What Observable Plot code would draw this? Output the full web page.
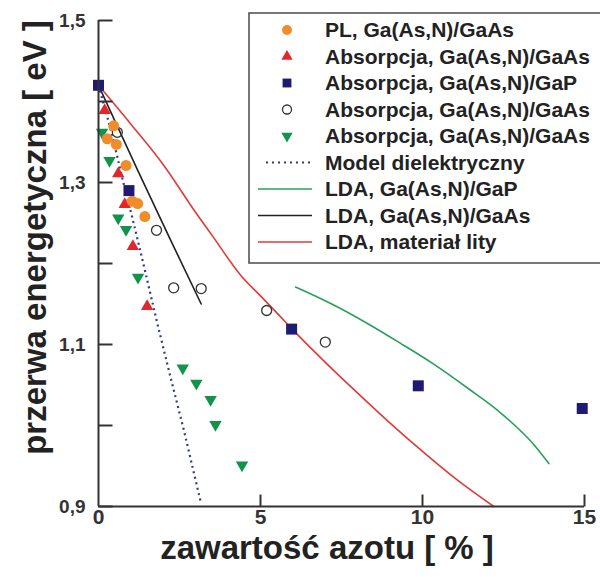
<!DOCTYPE html>
<html>
<head>
<meta charset="utf-8">
<script src="https://cdn.jsdelivr.net/npm/d3@7"></script>
<script src="https://cdn.jsdelivr.net/npm/@observablehq/plot@0.6"></script>
<style>
  body { margin: 0; background: #fff; }
  #chart { position: relative; width: 600px; height: 577px; }
  #chart svg { display: block; }
</style>
</head>
<body>
<div id="chart"></div>
<script>
// Band gap of Ga(As,N) vs nitrogen content: [nitrogen %, gap eV]
const plGaAs = [[0.27,1.354],[0.47,1.370],[0.55,1.347],[0.85,1.321],[1.04,1.277],[1.21,1.274],[1.43,1.258]];
const absGaAsUp = [[0.19,1.389],[0.61,1.311],[0.81,1.273],[1.06,1.221],[1.50,1.147]];
const absGaP = [[0,1.42],[0.94,1.29],[5.96,1.119],[9.87,1.049],[14.93,1.021]];
const absGaAsOpen = [[0.58,1.362],[1.79,1.241],[2.32,1.170],[3.17,1.169],[5.19,1.142],[7.0,1.103]];
const absGaAsDown = [[0.11,1.362],[0.34,1.327],[0.61,1.256],[0.85,1.242],[1.22,1.183],[2.60,1.071],[3.02,1.052],[3.46,1.032],[3.61,1.001],[4.43,0.951]];

const modelDielectric = [[0,1.42],[0.32,1.374],[0.58,1.332],[0.73,1.306],[1.04,1.257],[1.24,1.224],[1.43,1.192],[1.81,1.127],[2.22,1.060],[2.63,0.995],[3.17,0.903]];
const ldaGaP = [[6.08,1.171],[7.2,1.150],[8.3,1.126],[9.3,1.102],[10.3,1.077],[11.4,1.046],[12.4,1.016],[13.4,0.978],[13.9,0.953]];
const ldaGaAs = [[0,1.42],[1.2,1.316],[2.2,1.231],[3.17,1.15]];
const ldaBulk = [[0,1.42],[1,1.372],[2,1.322],[3,1.263],[3.5,1.235],[4.4,1.185],[5,1.16],[5.6,1.135],[6,1.118],[7,1.078],[8,1.040],[9,1.003],[10,0.968],[11,0.935],[12.2,0.9]];

// Axis ticks
const xLabels = [0, 5, 10, 15];
const xTickMarks = [5, 10, 15];
const yTickMarks = [0.9, 1.0, 1.1, 1.2, 1.3, 1.4, 1.5];
const yLabels = [0.9, 1.1, 1.3, 1.5];

// Legend entries
const legendLabels = [
  "PL, Ga(As,N)/GaAs",
  "Absorpcja, Ga(As,N)/GaAs",
  "Absorpcja, Ga(As,N)/GaP",
  "Absorpcja, Ga(As,N)/GaAs",
  "Absorpcja, Ga(As,N)/GaAs",
  "Model dielektryczny",
  "LDA, Ga(As,N)/GaP",
  "LDA, Ga(As,N)/GaAs",
  "LDA, materiał lity"
];

const C = {
  orange: "#f08c2a", red: "#e2262a", navy: "#1f1b72", open: "#333",
  green: "#12934a", dotted: "#34398a", gLine: "#27a05a", kLine: "#222", rLine: "#e03a3a",
  axis: "#333", text: "#222"
};

const FONT = "'Liberation Sans', Arial, Helvetica, sans-serif";

// Downward-pointing triangle (mirror of d3.symbolTriangle)
const sqrt3 = Math.sqrt(3);
const triangleDown = {
  draw(ctx, size) {
    const y = Math.sqrt(size / (sqrt3 * 3));
    ctx.moveTo(0, y * 2);
    ctx.lineTo(-sqrt3 * y, -y);
    ctx.lineTo(sqrt3 * y, -y);
    ctx.closePath();
  }
};
// Inward tick shapes
const tickRight = { draw(ctx) { ctx.moveTo(0, 0); ctx.lineTo(14, 0); } };
const tickUp = { draw(ctx) { ctx.moveTo(0, 0); ctx.lineTo(0, -12); } };

const px = d => d[0], py = d => d[1];
const fmt = d => d.toFixed(1).replace(".", ",");

const chart = Plot.plot({
  width: 600,
  height: 577,
  marginLeft: 98,
  marginRight: 16,
  marginTop: 20,
  marginBottom: 71,
  x: { domain: [0, 15] },
  y: { domain: [0.9, 1.5] },
  style: { fontFamily: FONT, background: "white", overflow: "visible" },
  marks: [
    // model curves
    Plot.line(ldaBulk, { x: px, y: py, stroke: C.rLine, strokeWidth: 1.6, curve: "monotone-x" }),
    Plot.line(ldaGaP, { x: px, y: py, stroke: C.gLine, strokeWidth: 1.6, curve: "monotone-x" }),
    Plot.line(ldaGaAs, { x: px, y: py, stroke: C.kLine, strokeWidth: 1.6 }),
    Plot.line(modelDielectric, { x: px, y: py, stroke: C.dotted, strokeWidth: 2.2, strokeDasharray: "2 3.6", strokeLinecap: "butt" }),

    // measurements
    Plot.dot(absGaAsOpen, { x: px, y: py, r: 5, stroke: C.open, strokeWidth: 1.3, fill: "none" }),
    Plot.dot(absGaAsDown, { x: px, y: py, r: 4.6, symbol: triangleDown, fill: C.green, stroke: "none" }),
    Plot.dot(absGaAsUp, { x: px, y: py, r: 4.6, symbol: "triangle", fill: C.red, stroke: "none" }),
    Plot.dot(plGaAs, { x: px, y: py, r: 5.5, fill: C.orange, stroke: "none" }),
    Plot.dot(absGaP, { x: px, y: py, r: 6.2, symbol: "square", fill: C.navy, stroke: "none" }),

    // axes lines
    Plot.ruleX([0], { y1: 0.9, y2: 1.5, stroke: C.axis, strokeWidth: 2 }),
    Plot.ruleY([0.9], { x1: 0, x2: 15, stroke: C.axis, strokeWidth: 2 }),
    Plot.dot(yTickMarks, { x: 0, y: d => d, symbol: tickRight, stroke: C.axis, strokeWidth: 2, fill: "none" }),
    Plot.dot(xTickMarks, { x: d => d, y: 0.9, symbol: tickUp, stroke: C.axis, strokeWidth: 2, fill: "none" }),

    // tick labels
    Plot.axisY({ ticks: yLabels, tickSize: 0, tickPadding: 13, tickFormat: fmt, fontSize: 19, fontWeight: "bold", color: C.axis, label: null }),
    Plot.axisX({ ticks: xLabels, tickSize: 0, tickPadding: 3, tickFormat: d => String(d), fontSize: 21, fontWeight: "bold", color: C.axis, label: null }),

    // axis titles
    Plot.text(["przerwa energetyczna [ eV ]"], {
      text: d => d, frameAnchor: "top-left", dx: -63.5, dy: 217, rotate: -90,
      fontSize: 33, fontWeight: "bold", fill: C.text, textAnchor: "middle", lineAnchor: "middle"
    }),
    Plot.text(["zawartość azotu [ % ]"], {
      text: d => d, frameAnchor: "bottom", dx: -14.5, dy: 41.5,
      fontSize: 33, fontWeight: "bold", fill: C.text, textAnchor: "middle", lineAnchor: "middle"
    })
  ]
});

const host = document.getElementById("chart");
host.appendChild(chart);

// Legend box drawn over the upper-right area of the plot
const legendKinds = [
  { type: "symbol", symbol: d3.symbolCircle, fill: C.orange, r: 5 },
  { type: "symbol", symbol: d3.symbolTriangle, fill: C.red, r: 4.2 },
  { type: "symbol", symbol: d3.symbolSquare, fill: C.navy, r: 5 },
  { type: "symbol", symbol: d3.symbolCircle, fill: "none", stroke: C.open, r: 4.5 },
  { type: "symbol", symbol: triangleDown, fill: C.green, r: 4.2 },
  { type: "line", stroke: C.dotted, dash: "2 4", width: 2, x1: 266 },
  { type: "line", stroke: C.gLine, width: 1.6 },
  { type: "line", stroke: C.kLine, width: 1.6 },
  { type: "line", stroke: C.rLine, width: 1.6 }
];

const leg = d3.select(host).append("svg")
  .attr("width", 600).attr("height", 577)
  .style("position", "absolute").style("left", "0px").style("top", "0px")
  .style("pointer-events", "none")
  .attr("font-family", FONT);

leg.append("rect")
  .attr("x", 249).attr("y", 13).attr("width", 362).attr("height", 250)
  .attr("fill", "white").attr("stroke", "#555").attr("stroke-width", 1.6);

const rows = leg.selectAll("g.row").data(legendLabels).join("g")
  .attr("class", "row")
  .attr("transform", (d, i) => `translate(0,${37 + i * 26.5})`);

rows.each(function (label, i) {
  const g = d3.select(this);
  const k = legendKinds[i];
  if (k.type === "symbol") {
    g.append("path")
      .attr("transform", "translate(287,-7)")
      .attr("d", d3.symbol(k.symbol, Math.PI * k.r * k.r)())
      .attr("fill", k.fill)
      .attr("stroke", k.stroke || "none")
      .attr("stroke-width", 1.3);
  } else {
    g.append("line")
      .attr("x1", k.x1 || 258).attr("x2", 312).attr("y1", -7).attr("y2", -7)
      .attr("stroke", k.stroke).attr("stroke-width", k.width)
      .attr("stroke-dasharray", k.dash || null);
  }
  g.append("text")
    .attr("x", 325).attr("y", 0)
    .attr("font-size", 21).attr("font-weight", "bold")
    .attr("fill", C.text)
    .text(label);
});
</script>
</body>
</html>
